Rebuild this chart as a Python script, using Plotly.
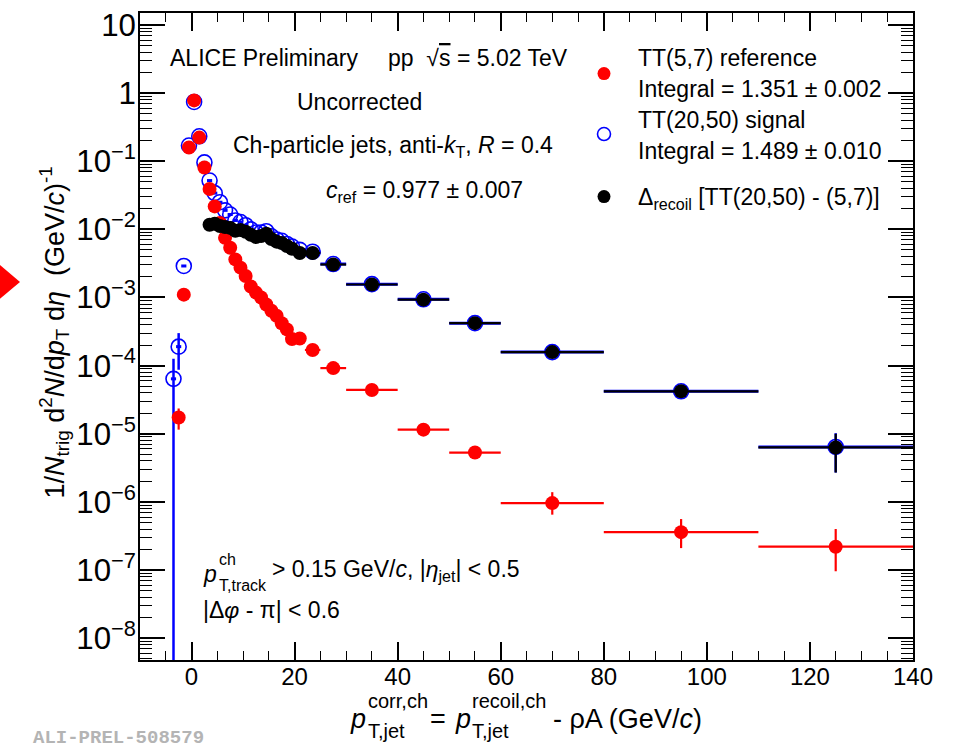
import plotly.graph_objects as go

# ---------------- data ----------------
ref_x = [-2.5, -1.5, -0.5, 0.5, 1.5, 2.5, 3.5, 4.5, 5.5, 6.5, 7.5, 8.5, 9.5, 10.5, 11.5,
         12.5, 13.5, 14.5, 15.5, 16.5, 17.5, 18.5, 19.5, 21, 23.5, 27.5, 35, 45, 55, 70, 95, 125]
ref_xw = [0.5] * 23 + [1, 1.5, 2.5, 5, 5, 5, 10, 15, 15]
ref_y = [1.73e-5, 1.1e-3, 0.159, 0.78, 0.222, 0.081, 0.039, 0.0217, 0.0124, 0.0075, 0.00536,
         0.00362, 0.00274, 0.00207, 0.00145, 0.00118, 1.0e-3, 7.9e-4, 6.4e-4, 5.4e-4, 4.18e-4,
         3.4e-4, 2.45e-4, 2.5e-4, 1.7e-4, 9.2e-5, 4.4e-5, 1.15e-5, 5.3e-6, 9.6e-7, 3.6e-7, 2.2e-7]
ref_eup = [6.2e-6] + [0] * 28 + [4.3e-7, 2.0e-7, 1.8e-7]
ref_edn = [5.8e-6] + [0] * 28 + [3.1e-7, 1.5e-7, 1.24e-7]

sig_x = [-3.5, -2.5, -1.5, -0.5, 0.5, 1.5, 2.5, 3.5, 4.5, 5.5, 6.5, 7.5, 8.5, 9.5, 10.5, 11.5,
         12.5, 13.5, 14.5, 15.5, 16.5, 17.5, 18.5, 19.5, 21, 23.5, 27.5, 35, 45, 55, 70, 95, 125]
sig_xw = [0.5] * 24 + [1, 1.5, 2.5, 5, 5, 5, 10, 15, 15]
sig_y = [6.4e-5, 1.9e-4, 2.9e-3, 0.17, 0.74, 0.232, 0.096, 0.052, 0.034, 0.025, 0.019, 0.0165,
         0.0135, 0.0128, 0.0115, 0.0100, 0.0090, 0.0090, 0.0094, 0.0079, 0.0071, 0.0068, 0.0061,
         0.0056, 0.0050, 0.0047, 0.0031, 0.00157, 0.00094, 0.00042, 1.58e-4, 4.2e-5, 6.4e-6]
sig_eup = [6.2e-5, 1.1e-4] + [0] * 30 + [3.8e-6]
sig_edn = [6.4e-5, 1.03e-4] + [0] * 30 + [3.7e-6]

dlt_x = [3.5, 4.5, 5.5, 6.5, 7.5, 8.5, 9.5, 10.5, 11.5, 12.5, 13.5, 14.5, 15.5, 16.5, 17.5,
         18.5, 19.5, 21, 23.5, 27.5, 35, 45, 55, 70, 95, 125]
dlt_xw = [0.5] * 17 + [1, 1.5, 2.5, 5, 5, 5, 10, 15, 15]
dlt_y = [0.0117, 0.0121, 0.0112, 0.0108, 0.0105, 0.0095, 0.0098, 0.0092, 0.0083, 0.0077, 0.0080,
         0.0086, 0.0072, 0.0066, 0.0063, 0.0057, 0.0052, 0.0045, 0.0045, 0.00305, 0.00155,
         0.00093, 0.00042, 1.58e-4, 4.2e-5, 6.3e-6]
dlt_eup = [0] * 25 + [3.7e-6]
dlt_edn = [0] * 25 + [3.6e-6]

FONT = "Liberation Sans, Arial, Helvetica, sans-serif"
RED, BLUE, BLACK = "#ff0000", "#0000ff", "#000000"

fig = go.Figure()

fig.add_trace(go.Scatter(
    x=sig_x, y=sig_y, mode="markers",
    marker=dict(symbol="circle-open", size=15, color=BLUE, line=dict(width=1.6, color=BLUE)),
    error_x=dict(type="data", array=sig_xw, color=BLUE, thickness=3, width=0),
    error_y=dict(type="data", array=sig_eup, arrayminus=sig_edn, color=BLUE, thickness=2.5, width=0),
    showlegend=False))

fig.add_trace(go.Scatter(
    x=ref_x, y=ref_y, mode="markers",
    marker=dict(symbol="circle", size=14, color=RED),
    error_x=dict(type="data", array=ref_xw, color=RED, thickness=2.2, width=0),
    error_y=dict(type="data", array=ref_eup, arrayminus=ref_edn, color=RED, thickness=2.2, width=0),
    showlegend=False))

fig.add_trace(go.Scatter(
    x=dlt_x, y=dlt_y, mode="markers",
    marker=dict(symbol="circle", size=14, color=BLACK),
    error_x=dict(type="data", array=dlt_xw, color=BLACK, thickness=2.2, width=0),
    error_y=dict(type="data", array=dlt_eup, arrayminus=dlt_edn, color=BLACK, thickness=2.2, width=0),
    showlegend=False))

L, R, T, B = 140, 48, 8, 88
W, H = 961, 748
PW, PH = W - L - R, H - T - B


def px(xp):
    return (xp - L) / PW


def py(yp):
    return (H - B - yp) / PH


fig.update_layout(
    width=W, height=H, autosize=False,
    margin=dict(l=L, r=R, t=T, b=B, pad=0),
    paper_bgcolor="white", plot_bgcolor="white",
    font=dict(family=FONT, color="black", size=23),
    xaxis=dict(range=[-10, 140], tickmode="linear", tick0=0, dtick=20, ticks="inside",
               ticklen=18, tickwidth=1.5, tickcolor="black", showline=True, linewidth=2,
               linecolor="black", mirror="ticks", showgrid=False, zeroline=False,
               ticklabelstandoff=-6, tickfont=dict(size=24, family=FONT),
               minor=dict(dtick=5, tick0=0, ticks="inside", ticklen=9, tickwidth=1.2,
                          tickcolor="black", showgrid=False)),
    yaxis=dict(type="log", range=[-8.32, 1.175], tickmode="linear", tick0=0, dtick=1,
               exponentformat="power", ticks="inside", ticklen=25, tickwidth=1.5,
               tickcolor="black", showline=True, linewidth=2, linecolor="black",
               mirror="ticks", showgrid=False, zeroline=False, ticklabelstandoff=-3,
               tickfont=dict(size=25, family=FONT),
               minor=dict(dtick="D1", ticks="inside", ticklen=12, tickwidth=1.2,
                          tickcolor="black", showgrid=False)),
)

ann = []


def txt(x, y, s, size=23, color="black", anchor="left", family=FONT, angle=0):
    ann.append(dict(x=px(x), y=py(y), xref="paper", yref="paper", text=s, showarrow=False,
                    xanchor=anchor, yanchor="middle", textangle=angle,
                    font=dict(size=size, color=color, family=family)))


# in-plot texts
txt(168, 53, "ALICE Preliminary")
txt(386, 53, "pp  \u221a<span style='text-decoration:overline'>s</span> = 5.02 TeV")
txt(295, 98, "Uncorrected")
txt(231, 143, "Ch-particle jets, anti-<i>k</i><sub>T</sub>, <i>R</i> = 0.4")
txt(324, 188, "<i>c</i><sub>ref</sub> = 0.977 \u00b1 0.007")

# legend
txt(636, 53, "TT(5,7) reference")
txt(636, 85, "Integral = 1.351 \u00b1 0.002")
txt(636, 116, "TT(20,50) signal")
txt(636, 147, "Integral = 1.489 \u00b1 0.010")
txt(636, 195, "\u0394<sub>recoil</sub> [TT(20,50) - (5,7)]")

# bottom-left cuts
txt(201, 573, "<i>p</i>")
txt(217, 559, "ch", size=16)
txt(217, 585, "T,track", size=16)
txt(270, 570, "> 0.15 GeV/<i>c</i>, |<i>\u03b7</i><sub>jet</sub>| < 0.5")
txt(201, 610, "|\u0394<i>\u03c6</i> - \u03c0| < 0.6")

# x-axis title (stacked super/subscripts)
YT = 719
txt(348, YT, "<i>p</i>", size=27)
txt(366, YT - 18, "corr,ch", size=20)
txt(366, YT + 13, "T,jet", size=20)
txt(428, YT, "=", size=27)
txt(453, YT, "<i>p</i>", size=27)
txt(470, YT - 18, "recoil,ch", size=20)
txt(470, YT + 13, "T,jet", size=20)
txt(551, YT, "- \u03c1A (GeV/<i>c</i>)", size=27)

# y-axis title
ann.append(dict(x=px(54), y=py(330), xref="paper", yref="paper", showarrow=False,
                textangle=-90, xanchor="center", yanchor="middle",
                text="1/<i>N</i><sub>trig</sub> d<sup>2</sup><i>N</i>/d<i>p</i><sub>T</sub> d<i>\u03b7</i>  (GeV/<i>c</i>)<sup>-1</sup>",
                font=dict(size=27, family=FONT, color="black")))

# watermark
ann.append(dict(x=px(31), y=py(739), xref="paper", yref="paper", showarrow=False,
                xanchor="left", yanchor="middle", text="<b>ALI-PREL-508579</b>",
                font=dict(size=19, family="Liberation Mono, Courier New, monospace", color="#b4b4b4")))

fig.update_layout(annotations=ann)

shapes = []
# legend markers
for yy, col, hollow in [(69, RED, False), (130, BLUE, True), (193, BLACK, False)]:
    shapes.append(dict(type="circle", xref="paper", yref="paper", xsizemode="pixel",
                       ysizemode="pixel", xanchor=px(604), yanchor=py(yy),
                       x0=-6.5, x1=6.5, y0=-6.5, y1=6.5,
                       line=dict(color=col, width=1.6 if hollow else 0),
                       fillcolor="rgba(0,0,0,0)" if hollow else col))
# red arrow marker at the left edge
shapes.append(dict(type="path", xref="paper", yref="paper",
                   path=f"M {px(0)},{py(262)} L {px(20)},{py(279)} L {px(0)},{py(296)} Z",
                   fillcolor=RED, line=dict(width=0)))
fig.update_layout(shapes=shapes)

fig.write_html("out.html")
